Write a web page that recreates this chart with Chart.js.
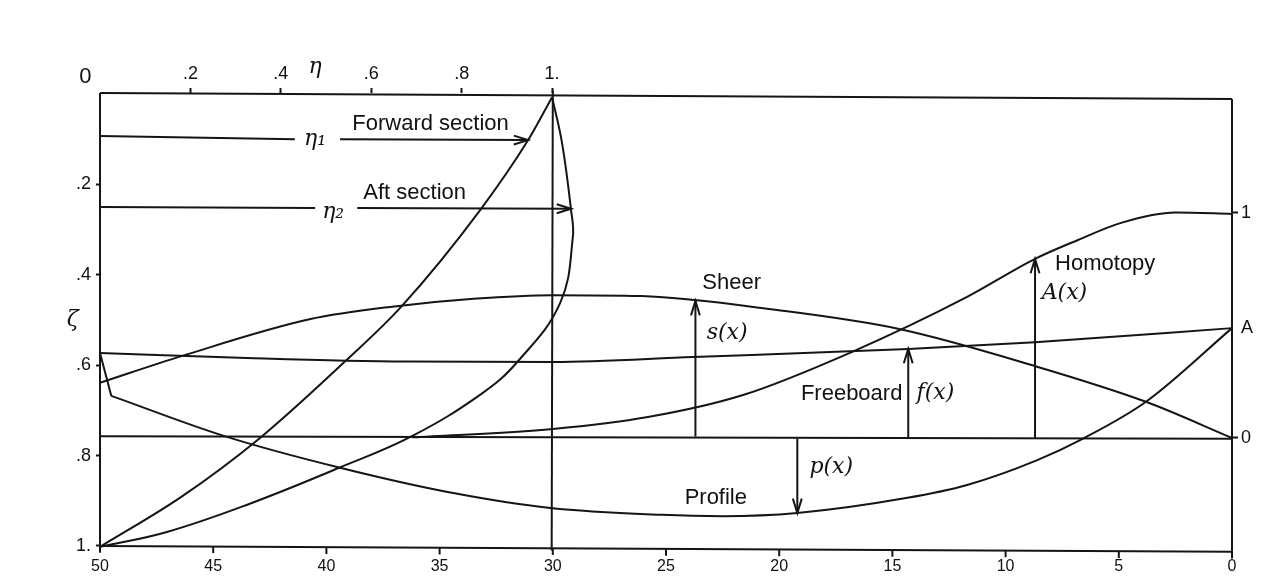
<!DOCTYPE html>
<html>
<head>
<meta charset="utf-8">
<title>Hull sections</title>
<script src="https://cdn.jsdelivr.net/npm/chart.js@4"></script>
<style>
  html, body { margin: 0; padding: 0; background: #fff; }
  canvas { display: block; }
</style>
</head>
<body>
<canvas id="grafico" width="1280" height="579"></canvas>
<script>
// Ticks
const xTicks = [50, 45, 40, 35, 30, 25, 20, 15, 10, 5, 0];
const xTickMarkY = [1.007, 1.008, 1.010, 1.011, 1.012, 1.014, 1.015, 1.016, 1.017, 1.019, 1.020];
const etaTicks = [0.2, 0.4, 0.6, 0.8, 1];
const etaLabels = ['.2', '.4', '.6', '.8', '1.'];
const zetaTicks = [0.2, 0.4, 0.6, 0.8, 1];
const zetaLabels = ['.2', '.4', '.6', '.8', '1.'];
const homotopyTicks = [0, 0.489, 1];
const homotopyLabels = ['0', 'A', '1'];

// Curves along the hull, x against zeta
const sheerX = [50, 46.4, 40.7, 37, 33.5, 30, 26.1, 20.1, 14.7, 8.7, 3.8, 0];
const sheerY = [0.639, 0.580, 0.498, 0.470, 0.453, 0.445, 0.447, 0.478, 0.520, 0.602, 0.681, 0.761];
const freeboardX = [50, 43.5, 36.5, 30, 23.8, 14.3, 8.7, 0];
const freeboardY = [0.573, 0.584, 0.592, 0.593, 0.582, 0.564, 0.549, 0.518];
const profileNoseX = [50, 49.5];
const profileNoseY = [0.573, 0.668];
const profileX = [49.5, 44.5, 39.4, 34.4, 30.1, 25.2, 22.5, 19.2, 14.4, 11.7, 8.6, 6.6, 3.8, 0];
const profileY = [0.668, 0.757, 0.827, 0.883, 0.916, 0.931, 0.934, 0.927, 0.894, 0.865, 0.810, 0.763, 0.681, 0.518];

// Homotopy A(x), read on the right axis
const homotopyX = [36.2, 30, 25.8, 21.6, 16.8, 11.7, 8.7, 6.8, 4.9, 2.5, 0];
const homotopyY = [0.003, 0.040, 0.093, 0.191, 0.382, 0.627, 0.796, 0.880, 0.956, 1.002, 0.996];

// Sections, eta against zeta
const forwardEta = [1, 0.947, 0.843, 0.666, 0.546, 0.354, 0.179, 0];
const forwardZeta = [0.007, 0.102, 0.254, 0.471, 0.588, 0.761, 0.892, 1.002];
const aftEta = [1, 1.022, 1.042, 1.046, 1.018, 0.923, 0.843, 0.690, 0.529, 0.330, 0.148, 0];
const aftZeta = [0.007, 0.108, 0.257, 0.316, 0.462, 0.593, 0.664, 0.757, 0.827, 0.907, 0.969, 1.002];

// Frame lines of the drawing, slightly tilted like the original
const topLineY = [-0.002, 0.011];
const bottomLineY = [1.0, 1.013];
const baseLineY = [0.757, 0.763];
const frameEndsX = [50, 0];

// Text notes and where they sit, in x and zeta
const noteTexts = ['Forward section', 'Aft section', 'Sheer', 'Homotopy', 'Freeboard', 'Profile', '0'];
const noteX = [35.4, 36.1, 22.1, 5.6, 16.8, 22.8, 50.65];
const noteY = [0.066, 0.219, 0.418, 0.376, 0.664, 0.894, -0.038];
const symbolTexts = ['η₁', 'η₂', 'η', 'ζ', 's(x)', 'f(x)', 'A(x)', 'p(x)'];
const symbolX = [40.5, 39.7, 40.5, 51.2, 22.3, 13.1, 7.4, 17.7];
const symbolY = [0.100, 0.261, -0.058, 0.5, 0.529, 0.662, 0.440, 0.825];

const COR = '#151515';

function pontos(xs, ys) {
  return xs.map((x, i) => ({ x, y: ys[i] }));
}

/**
 * Builds one line dataset.
 */
function linha(data, extra = {}) {
  return Object.assign({
    data,
    showLine: true,
    borderColor: COR,
    borderWidth: 2,
    pointRadius: 0,
    tension: 0,
    clip: false,
    xAxisID: 'x',
    yAxisID: 'y'
  }, extra);
}

const curva = { cubicInterpolationMode: 'monotone' };

const datasets = [
  // frame
  linha(pontos(frameEndsX, topLineY)),
  linha(pontos(frameEndsX, bottomLineY)),
  linha(pontos(frameEndsX, baseLineY)),
  linha(pontos([50, 50], [-0.002, 1.0])),
  linha(pontos([0, 0], [0.011, 1.013])),
  linha(pontos([30, 30.05], [-0.008, 1.01])),
  // curves
  linha(pontos(sheerX, sheerY), curva),
  linha(pontos(freeboardX, freeboardY), curva),
  linha(pontos(profileNoseX, profileNoseY)),
  linha(pontos(profileX, profileY), curva),
  linha(pontos(homotopyX, homotopyY), { ...curva, yAxisID: 'yRight' }),
  linha(pontos(forwardEta, forwardZeta), { ...curva, xAxisID: 'xTop' }),
  linha(pontos(aftEta, aftZeta), { tension: 0.4, xAxisID: 'xTop' }),
  // eta dimension lines
  linha(pontos([0, 0.431], [0.093, 0.100]), { xAxisID: 'xTop' }),
  linha(pontos([0.531, 0.947], [0.100, 0.102]), { xAxisID: 'xTop', seta: true }),
  linha(pontos([0, 0.476], [0.250, 0.252]), { xAxisID: 'xTop' }),
  linha(pontos([0.569, 1.042], [0.252, 0.254]), { xAxisID: 'xTop', seta: true }),
  // s, f, A, p arrows
  linha(pontos([23.7, 23.7], [0.758, 0.458]), { seta: true }),
  linha(pontos([14.3, 14.3], [0.762, 0.564]), { seta: true }),
  linha(pontos([8.7, 8.7], [0.762, 0.365]), { seta: true }),
  linha(pontos([19.2, 19.2], [0.762, 0.927]), { seta: true }),
  // tick marks of the lower edge, they follow its tilt
  {
    data: pontos(xTicks, xTickMarkY),
    showLine: false,
    clip: false,
    pointStyle: 'line',
    pointRotation: 90,
    pointRadius: 3.5,
    pointBorderColor: COR,
    pointBorderWidth: 2,
    xAxisID: 'x',
    yAxisID: 'y'
  }
];

// Open arrow head at the last point of the datasets marked with seta
const pluginSetas = {
  id: 'setas',
  afterDatasetsDraw(chart) {
    const ctx = chart.ctx;
    chart.data.datasets.forEach((ds, i) => {
      if (!ds.seta) return;
      const pts = chart.getDatasetMeta(i).data;
      const a = pts[pts.length - 2];
      const b = pts[pts.length - 1];
      const ang = Math.atan2(b.y - a.y, b.x - a.x);
      ctx.save();
      ctx.strokeStyle = COR;
      ctx.lineWidth = 2;
      ctx.beginPath();
      ctx.moveTo(b.x - 15 * Math.cos(ang - 0.3), b.y - 15 * Math.sin(ang - 0.3));
      ctx.lineTo(b.x, b.y);
      ctx.lineTo(b.x - 15 * Math.cos(ang + 0.3), b.y - 15 * Math.sin(ang + 0.3));
      ctx.stroke();
      ctx.restore();
    });
  }
};

// Labels inside the drawing
const pluginNotas = {
  id: 'notas',
  afterDraw(chart) {
    const ctx = chart.ctx;
    const { x, y } = chart.scales;
    ctx.save();
    ctx.fillStyle = '#111';
    ctx.textAlign = 'center';
    ctx.textBaseline = 'middle';
    ctx.font = '22px "Liberation Sans"';
    noteTexts.forEach((t, i) => {
      ctx.fillText(t, x.getPixelForValue(noteX[i]), y.getPixelForValue(noteY[i]));
    });
    ctx.font = 'italic 22px "DejaVu Serif"';
    symbolTexts.forEach((t, i) => {
      ctx.fillText(t, x.getPixelForValue(symbolX[i]), y.getPixelForValue(symbolY[i]));
    });
    ctx.restore();
  }
};

function tamanho(prop, valor) {
  return scale => { scale[prop] = valor; };
}

function comTicks(valores) {
  return scale => { scale.ticks = valores.map(value => ({ value })); };
}

const fonteTick = { family: '"Liberation Sans"', size: 18 };
const semLinhas = { display: false, drawTicks: true, tickLength: 5, tickColor: COR, tickWidth: 2 };

new Chart(document.getElementById('grafico'), {
  type: 'scatter',
  data: { datasets },
  plugins: [pluginSetas, pluginNotas],
  options: {
    responsive: false,
    animation: false,
    layout: { padding: 0 },
    plugins: { legend: { display: false }, tooltip: { enabled: false } },
    scales: {
      x: {
        type: 'linear',
        position: 'bottom',
        reverse: true,
        min: 0,
        max: 50,
        afterBuildTicks: comTicks(xTicks),
        afterFit: tamanho('height', 27),
        border: { display: false },
        grid: { display: false, drawTicks: false },
        ticks: { color: '#111', font: { ...fonteTick, size: 16 }, padding: 5, autoSkip: false, maxRotation: 0, callback: v => String(v) }
      },
      xTop: {
        type: 'linear',
        position: 'top',
        min: 0,
        max: 2.504,
        afterBuildTicks: comTicks(etaTicks),
        afterFit: tamanho('height', 93),
        border: { display: false },
        grid: { ...semLinhas, display: true, drawOnChartArea: false },
        ticks: { color: '#111', font: fonteTick, padding: 3, autoSkip: false, maxRotation: 0, callback: (v, i) => etaLabels[i] }
      },
      y: {
        type: 'linear',
        position: 'left',
        reverse: true,
        min: -0.0022,
        max: 1.0133,
        afterBuildTicks: comTicks(zetaTicks),
        afterFit: tamanho('width', 100),
        border: { display: false },
        grid: { ...semLinhas, display: true, drawOnChartArea: false, tickLength: 4 },
        ticks: { color: '#111', font: fonteTick, padding: 5, autoSkip: false, callback: (v, i) => zetaLabels[i] }
      },
      yRight: {
        type: 'linear',
        position: 'right',
        min: -0.5067,
        max: 1.5333,
        afterBuildTicks: comTicks(homotopyTicks),
        afterFit: tamanho('width', 48),
        border: { display: false },
        grid: {
          display: true,
          drawOnChartArea: false,
          tickLength: 6,
          tickWidth: 2,
          tickColor: c => (c.index === 1 ? 'transparent' : COR)
        },
        ticks: { color: '#111', font: fonteTick, padding: 3, autoSkip: false, callback: (v, i) => homotopyLabels[i] }
      }
    }
  }
});
</script>
</body>
</html>
